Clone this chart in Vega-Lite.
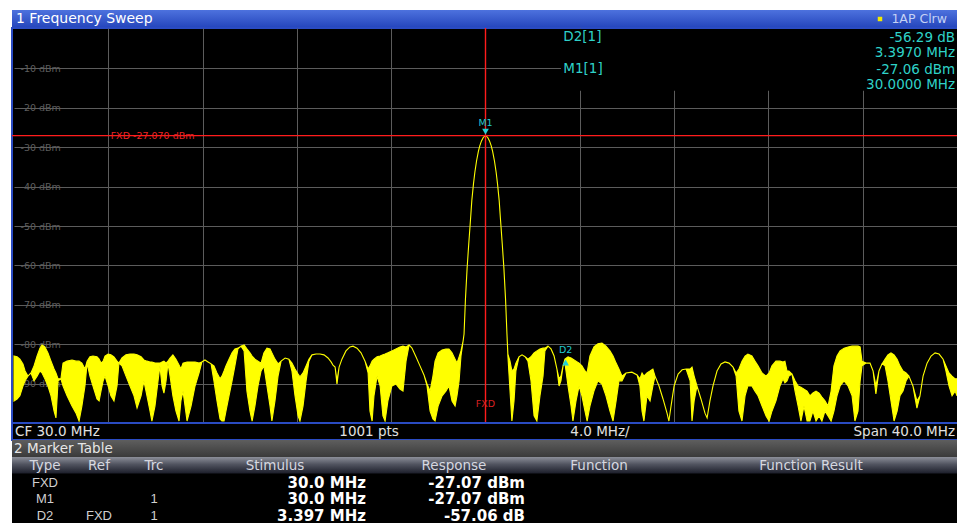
{
  "$schema": "https://vega.github.io/schema/vega-lite/v6.json",
  "background": "#ffffff",
  "padding": {"left": 10, "top": 10, "right": 1, "bottom": 0},
  "spacing": 0,
  "bounds": "flush",
  "config": {
    "view": {"stroke": null},
    "font": "DejaVu Sans",
    "text": {"font": "DejaVu Sans"},
    "axis": {"labelFont": "DejaVu Sans"}
  },
  "datasets": {
    "trace": [
      {"f":10.00,"hi":-83.0,"lo":-94.4},{"f":10.13,"hi":-83.2,"lo":-93.9},{"f":10.25,"hi":-83.8,"lo":-93.1},{"f":10.38,"hi":-85.0,"lo":-90.6},{"f":10.47,"hi":-86.8,"lo":-89.3},{"f":10.59,"hi":-88.1,"lo":-88.1},{"f":10.72,"hi":-87.3,"lo":-87.3},{"f":10.85,"hi":-85.5,"lo":-89.3},{"f":10.98,"hi":-83.0,"lo":-88.1},{"f":11.10,"hi":-81.0,"lo":-86.8},{"f":11.19,"hi":-80.2,"lo":-87.3},{"f":11.31,"hi":-80.7,"lo":-88.8},{"f":11.44,"hi":-82.2,"lo":-90.6},{"f":11.57,"hi":-84.3,"lo":-93.1},{"f":11.70,"hi":-86.3,"lo":-97.0},{"f":11.78,"hi":-87.3,"lo":-98.7},{"f":11.87,"hi":-88.8,"lo":-89.3},{"f":11.99,"hi":-88.8,"lo":-88.8},
      {"f":12.08,"hi":-84.8,"lo":-90.6},{"f":12.25,"hi":-84.3,"lo":-93.1},{"f":12.46,"hi":-84.0,"lo":-95.7},{"f":12.63,"hi":-84.3,"lo":-97.5},{"f":12.76,"hi":-84.3,"lo":-99.5},{"f":12.88,"hi":-84.8,"lo":-95.7},{"f":13.01,"hi":-86.3,"lo":-90.6},{"f":13.10,"hi":-84.3,"lo":-84.8},{"f":13.22,"hi":-83.2,"lo":-88.1},{"f":13.35,"hi":-83.0,"lo":-90.6},{"f":13.52,"hi":-83.2,"lo":-93.9},{"f":13.61,"hi":-83.8,"lo":-94.4},{"f":13.69,"hi":-84.8,"lo":-91.9},{"f":13.78,"hi":-84.3,"lo":-89.3},{"f":13.86,"hi":-83.0,"lo":-88.1},{"f":13.99,"hi":-82.5,"lo":-90.6},
      {"f":14.11,"hi":-82.7,"lo":-93.1},{"f":14.24,"hi":-83.2,"lo":-94.4},{"f":14.37,"hi":-84.3,"lo":-90.6},{"f":14.45,"hi":-84.8,"lo":-84.8},{"f":14.58,"hi":-83.5,"lo":-85.5},{"f":14.75,"hi":-82.7,"lo":-88.1},{"f":14.92,"hi":-82.5,"lo":-90.6},{"f":15.09,"hi":-82.5,"lo":-93.1},{"f":15.22,"hi":-82.7,"lo":-96.2},{"f":15.39,"hi":-83.2,"lo":-93.1},{"f":15.51,"hi":-84.0,"lo":-89.3},{"f":15.64,"hi":-84.3,"lo":-93.1},{"f":15.77,"hi":-84.5,"lo":-97.0},{"f":15.85,"hi":-84.5,"lo":-99.5},{"f":15.98,"hi":-84.8,"lo":-95.7},
      {"f":16.11,"hi":-84.8,"lo":-89.3},{"f":16.19,"hi":-84.8,"lo":-85.5},{"f":16.28,"hi":-84.5,"lo":-90.6},{"f":16.36,"hi":-84.3,"lo":-92.4},{"f":16.45,"hi":-84.8,"lo":-89.3},{"f":16.53,"hi":-84.3,"lo":-84.8},{"f":16.62,"hi":-83.5,"lo":-88.1},{"f":16.74,"hi":-82.7,"lo":-93.1},{"f":16.87,"hi":-83.8,"lo":-97.0},{"f":17.00,"hi":-85.3,"lo":-99.5},{"f":17.08,"hi":-86.3,"lo":-94.4},{"f":17.17,"hi":-84.8,"lo":-91.9},{"f":17.34,"hi":-84.5,"lo":-99.5},{"f":17.51,"hi":-84.5,"lo":-95.7},{"f":17.68,"hi":-84.5,"lo":-90.6},{"f":17.85,"hi":-84.8,"lo":-87.3},{"f":17.97,"hi":-84.5,"lo":-84.5},
      {"f":18.10,"hi":-84.0,"lo":-84.0},{"f":18.23,"hi":-84.5,"lo":-84.5},{"f":18.36,"hi":-85.0,"lo":-85.0},{"f":18.48,"hi":-85.5,"lo":-89.3},{"f":18.61,"hi":-87.3,"lo":-94.4},{"f":18.74,"hi":-88.8,"lo":-99.0},{"f":18.82,"hi":-88.1,"lo":-99.5},{"f":18.91,"hi":-86.8,"lo":-99.5},{"f":18.99,"hi":-85.5,"lo":-97.0},{"f":19.12,"hi":-83.8,"lo":-93.1},{"f":19.25,"hi":-82.2,"lo":-89.3},{"f":19.37,"hi":-81.2,"lo":-85.5},{"f":19.50,"hi":-81.0,"lo":-81.2},{"f":19.63,"hi":-80.5,"lo":-80.5},{"f":19.76,"hi":-80.2,"lo":-81.7},{"f":19.88,"hi":-81.2,"lo":-91.9},
      {"f":20.01,"hi":-82.2,"lo":-97.0},{"f":20.10,"hi":-83.0,"lo":-99.5},{"f":20.22,"hi":-83.8,"lo":-95.7},{"f":20.35,"hi":-84.3,"lo":-90.6},{"f":20.48,"hi":-84.8,"lo":-86.8},{"f":20.60,"hi":-82.2,"lo":-85.5},{"f":20.73,"hi":-81.0,"lo":-90.6},{"f":20.86,"hi":-81.2,"lo":-95.7},{"f":20.94,"hi":-82.2,"lo":-99.5},{"f":21.07,"hi":-83.8,"lo":-94.4},{"f":21.20,"hi":-85.0,"lo":-88.1},{"f":21.33,"hi":-84.3,"lo":-84.3},{"f":21.50,"hi":-83.5,"lo":-83.5},{"f":21.66,"hi":-83.8,"lo":-83.8},{"f":21.79,"hi":-84.8,"lo":-86.8},{"f":21.92,"hi":-86.3,"lo":-93.1},
      {"f":22.05,"hi":-87.6,"lo":-98.2},{"f":22.13,"hi":-88.3,"lo":-99.5},{"f":22.26,"hi":-87.3,"lo":-95.7},{"f":22.39,"hi":-85.5,"lo":-89.3},{"f":22.51,"hi":-83.8,"lo":-84.3},{"f":22.64,"hi":-82.7,"lo":-82.7},{"f":22.81,"hi":-82.5,"lo":-82.5},{"f":22.98,"hi":-82.5,"lo":-82.5},{"f":23.15,"hi":-82.7,"lo":-82.7},{"f":23.32,"hi":-83.5,"lo":-83.5},{"f":23.45,"hi":-84.5,"lo":-84.5},{"f":23.53,"hi":-85.3,"lo":-85.3},{"f":23.62,"hi":-85.8,"lo":-85.8},{"f":23.70,"hi":-89.3,"lo":-90.1},{"f":23.79,"hi":-85.8,"lo":-85.8},{"f":23.91,"hi":-83.8,"lo":-83.8},
      {"f":24.08,"hi":-81.7,"lo":-81.7},{"f":24.25,"hi":-80.7,"lo":-80.7},{"f":24.38,"hi":-80.5,"lo":-80.5},{"f":24.55,"hi":-81.0,"lo":-81.0},{"f":24.72,"hi":-82.2,"lo":-82.2},{"f":24.89,"hi":-84.3,"lo":-84.3},{"f":25.02,"hi":-86.3,"lo":-87.3},{"f":25.10,"hi":-85.5,"lo":-97.0},{"f":25.19,"hi":-84.3,"lo":-99.5},{"f":25.27,"hi":-83.8,"lo":-93.1},{"f":25.40,"hi":-83.2,"lo":-88.1},{"f":25.53,"hi":-83.0,"lo":-90.6},{"f":25.65,"hi":-82.7,"lo":-98.2},{"f":25.74,"hi":-82.5,"lo":-99.5},{"f":25.86,"hi":-82.2,"lo":-94.4},
      {"f":26.03,"hi":-81.7,"lo":-90.6},{"f":26.20,"hi":-81.2,"lo":-90.1},{"f":26.37,"hi":-80.7,"lo":-91.4},{"f":26.50,"hi":-80.5,"lo":-91.9},{"f":26.63,"hi":-80.7,"lo":-84.3},{"f":26.76,"hi":-80.2,"lo":-80.2},{"f":26.88,"hi":-81.0,"lo":-81.0},{"f":27.05,"hi":-83.2,"lo":-83.2},{"f":27.22,"hi":-85.5,"lo":-85.5},{"f":27.39,"hi":-87.8,"lo":-87.8},{"f":27.52,"hi":-90.1,"lo":-90.6},{"f":27.65,"hi":-91.9,"lo":-97.0},{"f":27.77,"hi":-88.1,"lo":-99.0},{"f":27.86,"hi":-84.3,"lo":-99.5},{"f":27.99,"hi":-82.2,"lo":-95.7},
      {"f":28.16,"hi":-81.5,"lo":-93.1},{"f":28.32,"hi":-81.2,"lo":-91.9},{"f":28.45,"hi":-81.2,"lo":-90.6},{"f":28.58,"hi":-82.2,"lo":-94.4},{"f":28.71,"hi":-83.8,"lo":-95.7},{"f":28.79,"hi":-84.8,"lo":-93.1},{"f":28.88,"hi":-83.2,"lo":-89.3},{"f":28.96,"hi":-81.7,"lo":-83.0},{"f":29.05,"hi":-79.2,"lo":-79.2},
      {"f":29.09,"hi":-77.4,"lo":-77.4},{"f":29.15,"hi":-68.5,"lo":-68.5},{"f":29.22,"hi":-60.7,"lo":-60.7},{"f":29.29,"hi":-54.5,"lo":-54.5},{"f":29.36,"hi":-48.7,"lo":-48.7},{"f":29.42,"hi":-43.5,"lo":-43.5},{"f":29.49,"hi":-39.3,"lo":-39.3},{"f":29.55,"hi":-36.3,"lo":-36.3},{"f":29.62,"hi":-33.5,"lo":-33.5},{"f":29.70,"hi":-31.0,"lo":-31.0},{"f":29.76,"hi":-29.6,"lo":-29.6},{"f":29.83,"hi":-28.4,"lo":-28.4},{"f":29.91,"hi":-27.5,"lo":-27.5},{"f":30.00,"hi":-27.07,"lo":-27.07},
      {"f":30.09,"hi":-27.5,"lo":-27.5},{"f":30.17,"hi":-28.4,"lo":-28.4},{"f":30.24,"hi":-29.6,"lo":-29.6},{"f":30.30,"hi":-31.0,"lo":-31.0},{"f":30.38,"hi":-33.5,"lo":-33.5},{"f":30.45,"hi":-36.3,"lo":-36.3},{"f":30.51,"hi":-39.3,"lo":-39.3},{"f":30.58,"hi":-43.5,"lo":-43.5},{"f":30.64,"hi":-48.7,"lo":-48.7},{"f":30.71,"hi":-54.5,"lo":-54.5},{"f":30.78,"hi":-60.7,"lo":-60.7},{"f":30.85,"hi":-68.5,"lo":-68.5},{"f":30.91,"hi":-77.4,"lo":-77.4},{"f":30.95,"hi":-82.5,"lo":-83.0},
      {"f":31.04,"hi":-84.3,"lo":-91.9},{"f":31.12,"hi":-86.8,"lo":-99.5},{"f":31.21,"hi":-86.3,"lo":-94.4},{"f":31.29,"hi":-84.8,"lo":-86.8},{"f":31.42,"hi":-83.2,"lo":-83.2},{"f":31.55,"hi":-82.7,"lo":-82.7},{"f":31.68,"hi":-83.2,"lo":-83.2},{"f":31.80,"hi":-83.8,"lo":-84.3},{"f":31.93,"hi":-83.2,"lo":-89.3},{"f":32.06,"hi":-82.2,"lo":-98.2},{"f":32.18,"hi":-81.7,"lo":-99.5},{"f":32.31,"hi":-81.2,"lo":-93.1},{"f":32.44,"hi":-81.0,"lo":-88.1},{"f":32.52,"hi":-81.0,"lo":-81.7},{"f":32.65,"hi":-80.5,"lo":-80.5},{"f":32.78,"hi":-81.2,"lo":-81.2},{"f":32.91,"hi":-83.0,"lo":-83.0},
      {"f":33.03,"hi":-86.3,"lo":-86.3},{"f":33.12,"hi":-88.8,"lo":-90.6},{"f":33.20,"hi":-88.1,"lo":-89.3},{"f":33.29,"hi":-85.5,"lo":-85.5},{"f":33.37,"hi":-83.8,"lo":-84.8},{"f":33.50,"hi":-83.2,"lo":-90.6},{"f":33.63,"hi":-83.5,"lo":-95.7},{"f":33.71,"hi":-83.8,"lo":-99.5},{"f":33.84,"hi":-84.3,"lo":-94.4},{"f":33.97,"hi":-84.8,"lo":-90.6},{"f":34.09,"hi":-85.5,"lo":-93.1},{"f":34.22,"hi":-86.8,"lo":-97.0},{"f":34.31,"hi":-87.3,"lo":-99.5},{"f":34.43,"hi":-83.0,"lo":-95.7},{"f":34.60,"hi":-80.7,"lo":-91.9},{"f":34.77,"hi":-79.9,"lo":-89.3},{"f":34.94,"hi":-79.7,"lo":-90.1},
      {"f":35.11,"hi":-80.5,"lo":-93.1},{"f":35.28,"hi":-81.7,"lo":-97.0},{"f":35.41,"hi":-83.0,"lo":-99.5},{"f":35.54,"hi":-84.8,"lo":-94.4},{"f":35.66,"hi":-86.3,"lo":-89.3},{"f":35.79,"hi":-88.1,"lo":-89.3},{"f":35.96,"hi":-87.3,"lo":-87.3},{"f":36.21,"hi":-87.1,"lo":-87.1},{"f":36.43,"hi":-87.8,"lo":-87.8},{"f":36.55,"hi":-88.8,"lo":-90.6},{"f":36.64,"hi":-87.3,"lo":-97.0},{"f":36.72,"hi":-88.1,"lo":-99.5},{"f":36.85,"hi":-87.3,"lo":-93.1},{"f":36.98,"hi":-86.8,"lo":-94.4},
      {"f":37.10,"hi":-86.3,"lo":-90.6},{"f":37.19,"hi":-88.1,"lo":-88.1},{"f":37.36,"hi":-90.6,"lo":-90.6},{"f":37.53,"hi":-93.9,"lo":-93.9},{"f":37.70,"hi":-97.5,"lo":-97.5},{"f":37.78,"hi":-99.5,"lo":-99.5},{"f":37.87,"hi":-95.7,"lo":-95.7},{"f":38.00,"hi":-90.6,"lo":-90.6},{"f":38.17,"hi":-87.6,"lo":-87.6},{"f":38.34,"hi":-86.5,"lo":-86.5},{"f":38.51,"hi":-86.3,"lo":-86.3},{"f":38.68,"hi":-86.3,"lo":-89.3},{"f":38.76,"hi":-85.8,"lo":-99.5},{"f":38.85,"hi":-88.1,"lo":-94.4},{"f":38.97,"hi":-90.6,"lo":-90.6},
      {"f":39.14,"hi":-93.9,"lo":-93.9},{"f":39.31,"hi":-97.5,"lo":-97.5},{"f":39.40,"hi":-98.7,"lo":-98.7},{"f":39.52,"hi":-94.4,"lo":-94.4},{"f":39.65,"hi":-90.6,"lo":-90.6},{"f":39.82,"hi":-86.8,"lo":-86.8},{"f":39.99,"hi":-85.0,"lo":-85.0},{"f":40.16,"hi":-84.5,"lo":-84.5},{"f":40.33,"hi":-84.8,"lo":-84.8},{"f":40.50,"hi":-85.8,"lo":-85.8},{"f":40.63,"hi":-87.3,"lo":-88.1},{"f":40.75,"hi":-86.3,"lo":-97.0},{"f":40.88,"hi":-84.3,"lo":-99.5},
      {"f":41.01,"hi":-83.0,"lo":-93.1},{"f":41.13,"hi":-82.5,"lo":-90.6},{"f":41.30,"hi":-83.0,"lo":-90.6},{"f":41.43,"hi":-84.3,"lo":-91.9},{"f":41.56,"hi":-85.5,"lo":-93.1},{"f":41.73,"hi":-87.3,"lo":-95.7},{"f":41.90,"hi":-88.1,"lo":-98.2},{"f":42.03,"hi":-87.3,"lo":-99.5},{"f":42.15,"hi":-85.5,"lo":-97.0},{"f":42.32,"hi":-84.3,"lo":-94.4},{"f":42.49,"hi":-84.3,"lo":-90.6},{"f":42.62,"hi":-84.5,"lo":-88.8},{"f":42.70,"hi":-84.3,"lo":-89.8},{"f":42.79,"hi":-86.8,"lo":-89.3},{"f":42.87,"hi":-86.8,"lo":-88.1},
      {"f":43.00,"hi":-87.6,"lo":-87.6},{"f":43.13,"hi":-89.3,"lo":-91.9},{"f":43.26,"hi":-90.6,"lo":-95.7},{"f":43.38,"hi":-90.9,"lo":-99.5},{"f":43.51,"hi":-91.4,"lo":-95.7},{"f":43.64,"hi":-91.9,"lo":-99.5},{"f":43.76,"hi":-93.1,"lo":-99.5},{"f":43.89,"hi":-92.4,"lo":-97.0},{"f":44.02,"hi":-91.9,"lo":-99.5},{"f":44.15,"hi":-92.4,"lo":-98.2},{"f":44.27,"hi":-93.4,"lo":-99.5},{"f":44.40,"hi":-94.4,"lo":-97.0},{"f":44.53,"hi":-95.7,"lo":-98.2},{"f":44.66,"hi":-91.9,"lo":-99.5},{"f":44.78,"hi":-85.5,"lo":-97.0},{"f":44.91,"hi":-83.0,"lo":-93.1},
      {"f":45.04,"hi":-81.7,"lo":-90.6},{"f":45.21,"hi":-81.0,"lo":-89.3},{"f":45.38,"hi":-80.7,"lo":-90.6},{"f":45.55,"hi":-80.5,"lo":-93.1},{"f":45.67,"hi":-80.5,"lo":-99.5},{"f":45.80,"hi":-80.5,"lo":-97.0},{"f":45.89,"hi":-80.7,"lo":-89.3},{"f":45.97,"hi":-84.3,"lo":-85.5},{"f":46.14,"hi":-84.8,"lo":-84.8},{"f":46.31,"hi":-84.8,"lo":-84.8},{"f":46.44,"hi":-86.8,"lo":-86.8},{"f":46.56,"hi":-90.6,"lo":-92.6},{"f":46.69,"hi":-86.8,"lo":-86.8},{"f":46.82,"hi":-85.0,"lo":-85.0},{"f":46.95,"hi":-83.8,"lo":-85.5},
      {"f":47.07,"hi":-82.7,"lo":-89.3},{"f":47.20,"hi":-82.2,"lo":-94.4},{"f":47.33,"hi":-82.7,"lo":-99.5},{"f":47.46,"hi":-83.8,"lo":-97.0},{"f":47.58,"hi":-85.5,"lo":-93.1},{"f":47.71,"hi":-86.8,"lo":-91.9},{"f":47.84,"hi":-87.3,"lo":-89.3},{"f":47.96,"hi":-88.1,"lo":-88.1},{"f":48.13,"hi":-90.6,"lo":-90.6},{"f":48.30,"hi":-94.4,"lo":-96.2},{"f":48.43,"hi":-93.1,"lo":-93.1},{"f":48.56,"hi":-88.1,"lo":-88.1},{"f":48.73,"hi":-84.8,"lo":-84.8},{"f":48.90,"hi":-83.0,"lo":-83.0},
      {"f":49.07,"hi":-82.2,"lo":-82.2},{"f":49.24,"hi":-82.5,"lo":-82.5},{"f":49.41,"hi":-83.8,"lo":-83.8},{"f":49.53,"hi":-85.5,"lo":-86.8},{"f":49.66,"hi":-87.3,"lo":-90.6},{"f":49.79,"hi":-88.1,"lo":-93.1},{"f":49.92,"hi":-88.8,"lo":-91.9},{"f":50.00,"hi":-88.8,"lo":-93.1}
    ],
    "fxd": [{"name": "FXD", "f": 30.0, "level": -27.07, "label": "FXD -27.070 dBm"}],
    "markers": [
      {"name": "M1", "f": 30.0, "level": -27.07},
      {"name": "D2", "f": 33.397, "level": -84.13}
    ],
    "readout": [
      {"marker": "D2[1]", "lines": ["-56.29 dB", "3.3970 MHz"]},
      {"marker": "M1[1]", "lines": ["-27.06 dBm", "30.0000 MHz"]}
    ],
    "infobox": [{"name": "marker info"}],
    "titlebar": [
      {"label": "1 Frequency Sweep", "side": "left"},
      {"label": "1AP Clrw", "side": "right"}
    ],
    "status": [
      {"item": "cf", "label": "CF 30.0 MHz"},
      {"item": "pts", "label": "1001 pts"},
      {"item": "div", "label": "4.0 MHz/"},
      {"item": "span", "label": "Span 40.0 MHz"}
    ],
    "tabletitle": [{"label": "2 Marker Table"}],
    "table": [
      {"row": "hdr", "Type": "Type", "Ref": "Ref", "Trc": "Trc", "Stimulus": "Stimulus", "Response": "Response", "Function": "Function", "FunctionResult": "Function Result"},
      {"row": "FXD", "Type": "FXD", "Ref": "", "Trc": "", "Stimulus": "30.0 MHz", "Response": "-27.07 dBm", "Function": "", "FunctionResult": ""},
      {"row": "M1", "Type": "M1", "Ref": "", "Trc": "1", "Stimulus": "30.0 MHz", "Response": "-27.07 dBm", "Function": "", "FunctionResult": ""},
      {"row": "D2", "Type": "D2", "Ref": "FXD", "Trc": "1", "Stimulus": "3.397 MHz", "Response": "-57.06 dB", "Function": "", "FunctionResult": ""}
    ]
  },
  "vconcat": [
    {
      "width": 946, "height": 18,
      "view": {"fill": {"gradient": "linear", "x1": 0, "y1": 0, "x2": 0, "y2": 1, "stops": [{"offset": 0, "color": "#4d72de"}, {"offset": 1, "color": "#2445bb"}]}, "stroke": null},
      "data": {"name": "titlebar"},
      "layer": [
        {"transform": [{"filter": "datum.side === 'left'"}],
         "mark": {"type": "text", "align": "left", "baseline": "middle", "fontSize": 14, "color": "#ffffff", "dx": 4},
         "encoding": {"x": {"datum": 0, "type": "quantitative", "scale": {"domain": [0, 1]}, "axis": null}, "text": {"field": "label"}}},
        {"transform": [{"filter": "datum.side === 'right'"}],
         "mark": {"type": "text", "align": "right", "baseline": "middle", "fontSize": 12.5, "color": "#c5d2f5", "dx": -11},
         "encoding": {"x": {"datum": 1, "type": "quantitative", "scale": {"domain": [0, 1]}, "axis": null}, "text": {"field": "label"}}},
        {"transform": [{"filter": "datum.side === 'right'"}],
         "mark": {"type": "square", "size": 20, "color": "#f2ea00", "filled": true, "opacity": 1, "xOffset": -78},
         "encoding": {"x": {"datum": 1, "type": "quantitative", "scale": {"domain": [0, 1]}, "axis": null}}}
      ]
    },
    {
      "width": 946, "height": 395,
      "view": {"fill": "#000000", "stroke": "#2a4bc2", "strokeWidth": 2},
      "layer": [
        {"data": {"name": "trace"},
         "mark": {"type": "area", "fill": "#ffff00", "stroke": "#ffff00", "strokeWidth": 1.1, "fillOpacity": 1, "clip": true},
         "encoding": {
           "x": {"field": "f", "type": "quantitative", "scale": {"domain": [10, 50], "range": [2, 945], "nice": false, "zero": false},
                 "axis": {"orient": "bottom", "values": [14, 18, 22, 26, 34, 38, 42, 46], "labels": false, "ticks": false, "domain": false, "title": null, "grid": true, "gridColor": "#5c5c5c", "gridOpacity": 1, "gridWidth": 1}},
           "y": {"field": "hi", "type": "quantitative", "scale": {"domain": [-100, 0], "range": [395, 1], "nice": false, "zero": false},
                 "axis": {"orient": "left", "values": [-90, -80, -70, -60, -50, -40, -30, -20, -10], "labelExpr": "datum.value + ' dBm'", "labelAlign": "left", "labelBaseline": "middle", "labelPadding": -8, "labelColor": "#5e5e5e", "labelFontSize": 9.5, "ticks": false, "domain": false, "title": null, "grid": true, "gridColor": "#5c5c5c", "gridOpacity": 1, "gridWidth": 1}},
           "y2": {"field": "lo"}
         }},
        {"data": {"name": "infobox"},
         "mark": {"type": "rect", "fill": "#000000"},
         "encoding": {"x": {"datum": 33.2, "type": "quantitative"}, "x2": {"datum": 50}, "y": {"datum": -15.7, "type": "quantitative"}, "y2": {"datum": 0}}},
        {"data": {"name": "fxd"},
         "mark": {"type": "rule", "color": "#ff1c1c", "strokeWidth": 1.4, "opacity": 1},
         "encoding": {"y": {"field": "level", "type": "quantitative"}}},
        {"data": {"name": "fxd"},
         "mark": {"type": "rule", "color": "#ff1c1c", "strokeWidth": 1.4, "opacity": 1},
         "encoding": {"x": {"field": "f", "type": "quantitative"}}},
        {"data": {"name": "fxd"},
         "mark": {"type": "text", "align": "left", "baseline": "middle", "fontSize": 9.5, "color": "#ee2424"},
         "encoding": {"x": {"datum": 14.1, "type": "quantitative"}, "y": {"field": "level", "type": "quantitative"}, "text": {"field": "label"}}},
        {"data": {"name": "fxd"},
         "mark": {"type": "text", "align": "center", "baseline": "middle", "fontSize": 9.5, "color": "#d82020"},
         "encoding": {"x": {"field": "f", "type": "quantitative"}, "y": {"datum": -95.2, "type": "quantitative"}, "text": {"field": "name"}}},
        {"data": {"name": "markers"}, "transform": [{"filter": "datum.name === 'M1'"}],
         "mark": {"type": "point", "shape": "triangle-down", "filled": true, "color": "#22d0d6", "size": 45, "opacity": 1, "yOffset": -4},
         "encoding": {"x": {"field": "f", "type": "quantitative"}, "y": {"field": "level", "type": "quantitative"}}},
        {"data": {"name": "markers"}, "transform": [{"filter": "datum.name === 'D2'"}],
         "mark": {"type": "point", "shape": "triangle-up", "filled": true, "color": "#22d0d6", "size": 45, "opacity": 1, "yOffset": 2},
         "encoding": {"x": {"field": "f", "type": "quantitative"}, "y": {"field": "level", "type": "quantitative"}}},
        {"data": {"name": "markers"}, "transform": [{"filter": "datum.name === 'M1'"}],
         "mark": {"type": "text", "align": "center", "baseline": "alphabetic", "fontSize": 9.5, "color": "#22c8d0", "dy": -10},
         "encoding": {"x": {"field": "f", "type": "quantitative"}, "y": {"field": "level", "type": "quantitative"}, "text": {"field": "name"}}},
        {"data": {"name": "markers"}, "transform": [{"filter": "datum.name === 'D2'"}],
         "mark": {"type": "text", "align": "center", "baseline": "alphabetic", "fontSize": 9.5, "color": "#22c8d0", "dy": -7},
         "encoding": {"x": {"field": "f", "type": "quantitative"}, "y": {"field": "level", "type": "quantitative"}, "text": {"field": "name"}}},
        {"data": {"name": "readout"}, "transform": [{"filter": "datum.marker === 'D2[1]'"}],
         "mark": {"type": "text", "align": "left", "baseline": "middle", "fontSize": 13.5, "color": "#2fd2c8"},
         "encoding": {"x": {"datum": 33.3, "type": "quantitative"}, "y": {"datum": -2.0, "type": "quantitative"}, "text": {"field": "marker"}}},
        {"data": {"name": "readout"}, "transform": [{"filter": "datum.marker === 'D2[1]'"}],
         "mark": {"type": "text", "align": "right", "baseline": "top", "fontSize": 13.5, "lineHeight": 15.5, "color": "#2fd2c8"},
         "encoding": {"x": {"datum": 49.92, "type": "quantitative"}, "y": {"datum": -0.5, "type": "quantitative"}, "text": {"field": "lines"}}},
        {"data": {"name": "readout"}, "transform": [{"filter": "datum.marker === 'M1[1]'"}],
         "mark": {"type": "text", "align": "left", "baseline": "middle", "fontSize": 13.5, "color": "#2fd2c8"},
         "encoding": {"x": {"datum": 33.3, "type": "quantitative"}, "y": {"datum": -10.2, "type": "quantitative"}, "text": {"field": "marker"}}},
        {"data": {"name": "readout"}, "transform": [{"filter": "datum.marker === 'M1[1]'"}],
         "mark": {"type": "text", "align": "right", "baseline": "top", "fontSize": 13.5, "lineHeight": 15.5, "color": "#2fd2c8"},
         "encoding": {"x": {"datum": 49.92, "type": "quantitative"}, "y": {"datum": -8.6, "type": "quantitative"}, "text": {"field": "lines"}}}
      ]
    },
    {
      "width": 946, "height": 17,
      "view": {"fill": "#000000", "stroke": "#2a4bc2", "strokeWidth": 2},
      "data": {"name": "status"},
      "layer": [
        {"transform": [{"filter": "datum.item === 'cf'"}],
         "mark": {"type": "text", "align": "left", "baseline": "middle", "fontSize": 13.5, "color": "#e0e0e0", "dx": 1},
         "encoding": {"x": {"datum": 10, "type": "quantitative", "scale": {"domain": [10, 50], "range": [2, 945]}, "axis": null}, "text": {"field": "label"}}},
        {"transform": [{"filter": "datum.item === 'pts'"}],
         "mark": {"type": "text", "align": "left", "baseline": "middle", "fontSize": 13.5, "color": "#e0e0e0"},
         "encoding": {"x": {"datum": 23.8, "type": "quantitative"}, "text": {"field": "label"}}},
        {"transform": [{"filter": "datum.item === 'div'"}],
         "mark": {"type": "text", "align": "left", "baseline": "middle", "fontSize": 13.5, "color": "#e0e0e0"},
         "encoding": {"x": {"datum": 33.6, "type": "quantitative"}, "text": {"field": "label"}}},
        {"transform": [{"filter": "datum.item === 'span'"}],
         "mark": {"type": "text", "align": "right", "baseline": "middle", "fontSize": 13.5, "color": "#e0e0e0", "dx": -2},
         "encoding": {"x": {"datum": 50, "type": "quantitative"}, "text": {"field": "label"}}}
      ]
    },
    {
      "width": 946, "height": 17,
      "view": {"fill": {"gradient": "linear", "x1": 0, "y1": 0, "x2": 0, "y2": 1, "stops": [{"offset": 0, "color": "#5e5e5e"}, {"offset": 1, "color": "#3a3a3a"}]}, "stroke": null},
      "data": {"name": "tabletitle"},
      "mark": {"type": "text", "align": "left", "baseline": "middle", "fontSize": 13.5, "color": "#e6e6e6", "dx": 2},
      "encoding": {"x": {"datum": 0, "type": "quantitative", "scale": {"domain": [0, 1]}, "axis": null}, "text": {"field": "label"}}
    },
    {
      "spacing": 0,
      "bounds": "flush",
      "hconcat": [
        {
          "width": 66, "height": 66, "view": {"fill": "#000000", "stroke": null},
          "data": {"name": "table"},
          "layer": [
            {"transform": [{"filter": "datum.row === 'hdr'"}], "mark": {"type": "rect", "fill": {"gradient": "linear", "x1": 0, "y1": 0, "x2": 0, "y2": 1, "stops": [{"offset": 0, "color": "#8c8f99"}, {"offset": 0.45, "color": "#50535f"}, {"offset": 1, "color": "#1c1e2a"}]}},
             "encoding": {"y": {"field": "row", "type": "nominal", "scale": {"domain": ["hdr", "FXD", "M1", "D2"], "paddingInner": 0, "paddingOuter": 0}, "axis": null}}},
            {"transform": [{"filter": "datum.row === 'hdr'"}], "mark": {"type": "text", "baseline": "middle", "fontSize": 13.5, "color": "#d6d8e0", "dy": 1},
             "encoding": {"y": {"field": "row", "type": "nominal"}, "text": {"field": "Type"}}},
            {"transform": [{"filter": "datum.row !== 'hdr'"}], "mark": {"type": "text", "baseline": "middle", "fontSize": 13, "font": "Liberation Sans", "color": "#cfcfcf", "dy": 1},
             "encoding": {"y": {"field": "row", "type": "nominal"}, "text": {"field": "Type"}}}
          ]
        },
        {
          "width": 42, "height": 66, "view": {"fill": "#000000", "stroke": null},
          "data": {"name": "table"},
          "layer": [
            {"transform": [{"filter": "datum.row === 'hdr'"}], "mark": {"type": "rect", "fill": {"gradient": "linear", "x1": 0, "y1": 0, "x2": 0, "y2": 1, "stops": [{"offset": 0, "color": "#8c8f99"}, {"offset": 0.45, "color": "#50535f"}, {"offset": 1, "color": "#1c1e2a"}]}},
             "encoding": {"y": {"field": "row", "type": "nominal", "scale": {"domain": ["hdr", "FXD", "M1", "D2"], "paddingInner": 0, "paddingOuter": 0}, "axis": null}}},
            {"transform": [{"filter": "datum.row === 'hdr'"}], "mark": {"type": "text", "baseline": "middle", "fontSize": 13.5, "color": "#d6d8e0", "dy": 1},
             "encoding": {"y": {"field": "row", "type": "nominal"}, "text": {"field": "Ref"}}},
            {"transform": [{"filter": "datum.row !== 'hdr'"}], "mark": {"type": "text", "baseline": "middle", "fontSize": 13, "font": "Liberation Sans", "color": "#cfcfcf", "dy": 1},
             "encoding": {"y": {"field": "row", "type": "nominal"}, "text": {"field": "Ref"}}}
          ]
        },
        {
          "width": 68, "height": 66, "view": {"fill": "#000000", "stroke": null},
          "data": {"name": "table"},
          "layer": [
            {"transform": [{"filter": "datum.row === 'hdr'"}], "mark": {"type": "rect", "fill": {"gradient": "linear", "x1": 0, "y1": 0, "x2": 0, "y2": 1, "stops": [{"offset": 0, "color": "#8c8f99"}, {"offset": 0.45, "color": "#50535f"}, {"offset": 1, "color": "#1c1e2a"}]}},
             "encoding": {"y": {"field": "row", "type": "nominal", "scale": {"domain": ["hdr", "FXD", "M1", "D2"], "paddingInner": 0, "paddingOuter": 0}, "axis": null}}},
            {"transform": [{"filter": "datum.row === 'hdr'"}], "mark": {"type": "text", "baseline": "middle", "fontSize": 13.5, "color": "#d6d8e0", "dy": 1},
             "encoding": {"y": {"field": "row", "type": "nominal"}, "text": {"field": "Trc"}}},
            {"transform": [{"filter": "datum.row !== 'hdr'"}], "mark": {"type": "text", "baseline": "middle", "fontSize": 13, "font": "Liberation Sans", "color": "#cfcfcf", "dy": 1},
             "encoding": {"y": {"field": "row", "type": "nominal"}, "text": {"field": "Trc"}}}
          ]
        },
        {
          "width": 182, "height": 66, "view": {"fill": "#000000", "stroke": null},
          "data": {"name": "table"},
          "layer": [
            {"transform": [{"filter": "datum.row === 'hdr'"}], "mark": {"type": "rect", "fill": {"gradient": "linear", "x1": 0, "y1": 0, "x2": 0, "y2": 1, "stops": [{"offset": 0, "color": "#8c8f99"}, {"offset": 0.45, "color": "#50535f"}, {"offset": 1, "color": "#1c1e2a"}]}},
             "encoding": {"y": {"field": "row", "type": "nominal", "scale": {"domain": ["hdr", "FXD", "M1", "D2"], "paddingInner": 0, "paddingOuter": 0}, "axis": null}}},
            {"transform": [{"filter": "datum.row === 'hdr'"}], "mark": {"type": "text", "baseline": "middle", "fontSize": 13.5, "color": "#d6d8e0", "dy": 1, "dx": -4},
             "encoding": {"y": {"field": "row", "type": "nominal"}, "text": {"field": "Stimulus"}}},
            {"transform": [{"filter": "datum.row !== 'hdr'"}], "mark": {"type": "text", "align": "right", "baseline": "middle", "fontSize": 15, "fontWeight": "bold", "color": "#ffffff", "dy": 1, "dx": -4},
             "encoding": {"x": {"datum": 1, "type": "quantitative", "scale": {"domain": [0, 1]}, "axis": null}, "y": {"field": "row", "type": "nominal"}, "text": {"field": "Stimulus"}}}
          ]
        },
        {
          "width": 164, "height": 66, "view": {"fill": "#000000", "stroke": null},
          "data": {"name": "table"},
          "layer": [
            {"transform": [{"filter": "datum.row === 'hdr'"}], "mark": {"type": "rect", "fill": {"gradient": "linear", "x1": 0, "y1": 0, "x2": 0, "y2": 1, "stops": [{"offset": 0, "color": "#8c8f99"}, {"offset": 0.45, "color": "#50535f"}, {"offset": 1, "color": "#1c1e2a"}]}},
             "encoding": {"y": {"field": "row", "type": "nominal", "scale": {"domain": ["hdr", "FXD", "M1", "D2"], "paddingInner": 0, "paddingOuter": 0}, "axis": null}}},
            {"transform": [{"filter": "datum.row === 'hdr'"}], "mark": {"type": "text", "baseline": "middle", "fontSize": 13.5, "color": "#d6d8e0", "dy": 1, "dx": 2},
             "encoding": {"y": {"field": "row", "type": "nominal"}, "text": {"field": "Response"}}},
            {"transform": [{"filter": "datum.row !== 'hdr'"}], "mark": {"type": "text", "align": "right", "baseline": "middle", "fontSize": 15, "fontWeight": "bold", "color": "#ffffff", "dy": 1, "dx": -9},
             "encoding": {"x": {"datum": 1, "type": "quantitative", "scale": {"domain": [0, 1]}, "axis": null}, "y": {"field": "row", "type": "nominal"}, "text": {"field": "Response"}}}
          ]
        },
        {
          "width": 130, "height": 66, "view": {"fill": "#000000", "stroke": null},
          "data": {"name": "table"},
          "layer": [
            {"transform": [{"filter": "datum.row === 'hdr'"}], "mark": {"type": "rect", "fill": {"gradient": "linear", "x1": 0, "y1": 0, "x2": 0, "y2": 1, "stops": [{"offset": 0, "color": "#8c8f99"}, {"offset": 0.45, "color": "#50535f"}, {"offset": 1, "color": "#1c1e2a"}]}},
             "encoding": {"y": {"field": "row", "type": "nominal", "scale": {"domain": ["hdr", "FXD", "M1", "D2"], "paddingInner": 0, "paddingOuter": 0}, "axis": null}}},
            {"transform": [{"filter": "datum.row === 'hdr'"}], "mark": {"type": "text", "baseline": "middle", "fontSize": 13.5, "color": "#d6d8e0", "dy": 1},
             "encoding": {"y": {"field": "row", "type": "nominal"}, "text": {"field": "Function"}}}
          ]
        },
        {
          "width": 294, "height": 66, "view": {"fill": "#000000", "stroke": null},
          "data": {"name": "table"},
          "layer": [
            {"transform": [{"filter": "datum.row === 'hdr'"}], "mark": {"type": "rect", "fill": {"gradient": "linear", "x1": 0, "y1": 0, "x2": 0, "y2": 1, "stops": [{"offset": 0, "color": "#8c8f99"}, {"offset": 0.45, "color": "#50535f"}, {"offset": 1, "color": "#1c1e2a"}]}},
             "encoding": {"y": {"field": "row", "type": "nominal", "scale": {"domain": ["hdr", "FXD", "M1", "D2"], "paddingInner": 0, "paddingOuter": 0}, "axis": null}}},
            {"transform": [{"filter": "datum.row === 'hdr'"}], "mark": {"type": "text", "baseline": "middle", "fontSize": 13.5, "color": "#d6d8e0", "dy": 1},
             "encoding": {"y": {"field": "row", "type": "nominal"}, "text": {"field": "FunctionResult"}}}
          ]
        }
      ]
    }
  ]
}
